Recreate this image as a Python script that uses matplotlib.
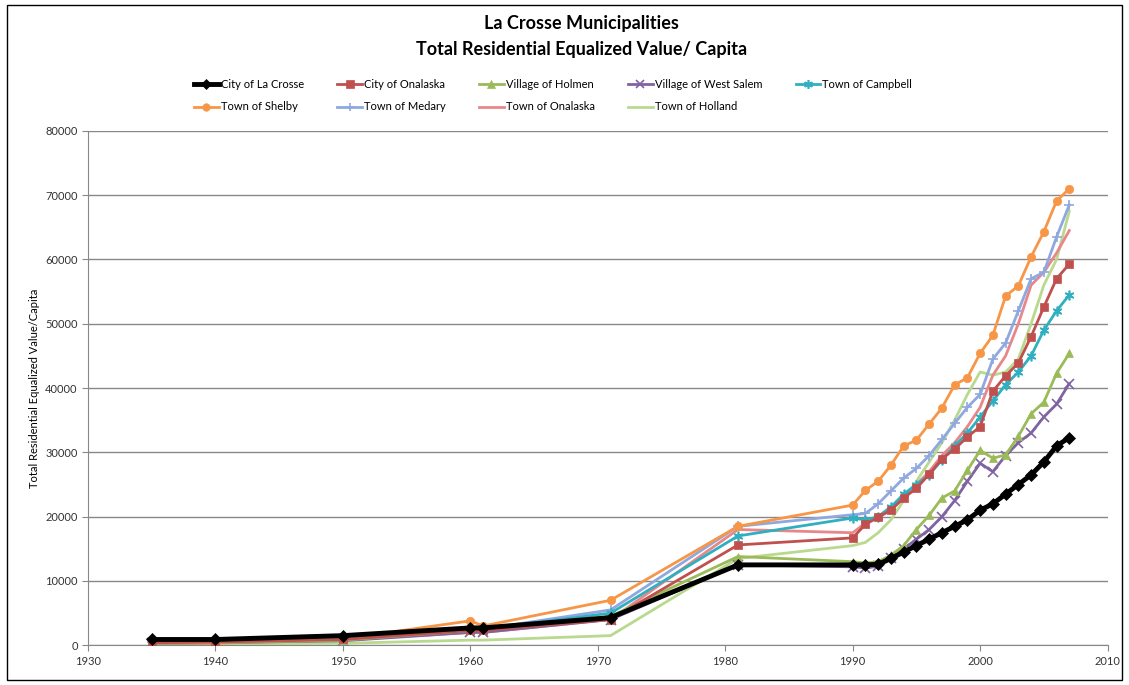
import matplotlib.pyplot as plt
from matplotlib.patches import Rectangle

plt.rcParams['font.family'] = ['Lato', 'DejaVu Sans']

years = [1935, 1940, 1950, 1960, 1961, 1971, 1981, 1990, 1991, 1992, 1993, 1994,
         1995, 1996, 1997, 1998, 1999, 2000, 2001, 2002, 2003, 2004, 2005, 2006, 2007]

city_la_crosse = [900, 900, 1500, 2700, 2700, 4300, 12500, 12500, 12500, 12600, 13500, 14500,
                  15500, 16500, 17500, 18500, 19500, 21000, 22000, 23500, 25000, 26500, 28500, 31000, 32300]
city_onalaska = [400, 500, 900, 2300, 2300, 4000, 15600, 16700, 18800, 19900, 21000, 22900,
                 24400, 26600, 29000, 30500, 32400, 34000, 39500, 41900, 43900, 48000, 52600, 57000, 59300]
village_holmen = [300, 400, 800, 2300, 2300, 4500, 13800, 13000, 12800, 13000, 14000, 15500,
                  18000, 20200, 22900, 24000, 27200, 30300, 29100, 29600, 32500, 36000, 37800, 42300, 45400]
village_west_salem = [300, 400, 700, 2000, 2000, 4000, 12500, 12200, 12000, 12300, 13500, 15000,
                      16500, 18000, 20000, 22500, 25500, 28300, 27000, 29500, 31500, 33000, 35500, 37500, 40700]
town_campbell = [400, 500, 1000, 2500, 2500, 5000, 17000, 19800, 19500, 20000, 21500, 23500,
                 25000, 26500, 28800, 31000, 33000, 35500, 38000, 40500, 42500, 45000, 49000, 52000, 54500]
town_shelby = [300, 300, 1000, 3800, 3000, 7000, 18500, 21800, 24100, 25500, 28000, 31000,
               31900, 34400, 36900, 40500, 41600, 45400, 48200, 54300, 55900, 60400, 64300, 69100, 71000]
town_medary = [500, 500, 1000, 2500, 2500, 5500, 18500, 20300, 20500, 22000, 24000, 26000,
               27500, 29500, 32000, 34500, 37000, 39000, 44500, 47000, 52000, 57000, 58000, 63500, 68500]
town_onalaska = [400, 400, 800, 2000, 2000, 4000, 18000, 17500, 19000, 20000, 21500, 23000,
                 25000, 27000, 29500, 31500, 34000, 37000, 42000, 45000, 50000, 56000, 58000, 61000, 64500]
town_holland = [200, 200, 300, 800, 800, 1500, 13500, 15500, 16000, 17500, 19500, 22500,
                25500, 28500, 31500, 35000, 39000, 42500, 42000, 42500, 44500, 50000, 56000, 60000, 67500]

series = [
    ("City of La Crosse", city_la_crosse, "black", "D", 3.5),
    ("City of Onalaska", city_onalaska, "#C0504D", "s", 2),
    ("Village of Holmen", village_holmen, "#9BBB59", "^", 2),
    ("Village of West Salem", village_west_salem, "#8064A2", "x", 2),
    ("Town of Campbell", town_campbell, "#2FAFC0", (6, 2, 0), 2),
    ("Town of Shelby", town_shelby, "#F79646", "o", 2),
    ("Town of Medary", town_medary, "#8FA8E0", "+", 2),
    ("Town of Onalaska", town_onalaska, "#E8878A", None, 2),
    ("Town of Holland", town_holland, "#B9D98F", None, 2),
]

fig = plt.figure(figsize=(11.29, 6.85), dpi=100)
ax = fig.add_axes([0.078, 0.058, 0.903, 0.751])

handles = []
for i, (name, vals, col, mk, lw) in enumerate(series):
    filled = mk in ("D", "s", "o", "^")
    h, = ax.plot(years, vals, color=col, marker=mk, markersize=6 if filled else 7,
                 linewidth=lw, markeredgewidth=0.5 if filled else 1.2,
                 label=name, zorder=12 if i == 0 else 10 - i)
    handles.append(h)

ax.set_xlim(1930, 2010)
ax.set_ylim(0, 80000)
ax.set_xticks(range(1930, 2011, 10))
ax.set_yticks(range(0, 80001, 10000))
ax.grid(axis='y', color='#888888', linewidth=1)
ax.set_axisbelow(True)
for s in ['top', 'right']:
    ax.spines[s].set_visible(False)
for s in ['left', 'bottom']:
    ax.spines[s].set_color('#888888')
ax.tick_params(labelsize=8, colors='#888888', labelcolor='#333333', length=4)
ax.set_ylabel('Total Residential Equalized Value/Capita', fontsize=8)

order = [0, 5, 1, 6, 2, 7, 3, 8, 4]
fig.legend([handles[i] for i in order], [series[i][0] for i in order],
           loc='center', bbox_to_anchor=(0.49, 0.86), ncol=5, frameon=False,
           fontsize=8, handlelength=2.2, columnspacing=3.0, handletextpad=0.2,
           labelspacing=1.0, markerscale=0.9)

fig.text(0.515, 0.965, 'La Crosse Municipalities', ha='center', va='center',
         fontsize=13, fontweight='bold')
fig.text(0.515, 0.928, 'Total Residential Equalized Value/ Capita', ha='center',
         va='center', fontsize=13, fontweight='bold')

fig.patches.append(Rectangle((0.006, 0.007), 0.988, 0.985, transform=fig.transFigure,
                             fill=False, edgecolor='black', linewidth=1))

fig.savefig('out.png', dpi=100)
